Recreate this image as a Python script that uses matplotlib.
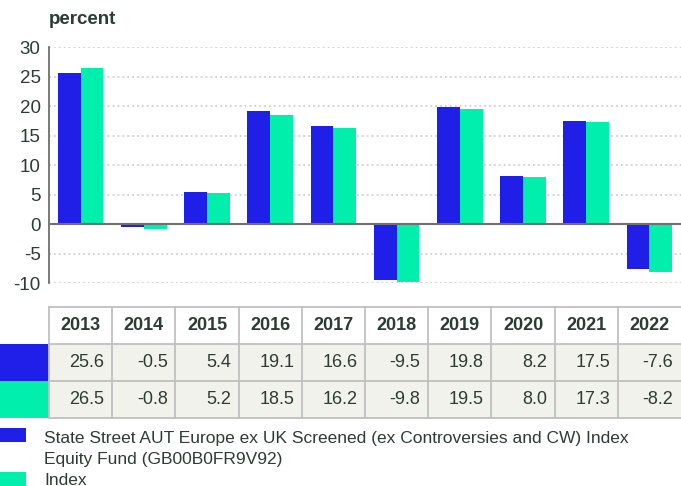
import matplotlib.pyplot as plt
from matplotlib.patches import Rectangle
import numpy as np

plt.rcParams['font.family'] = ['Liberation Sans', 'DejaVu Sans']

years = ['2013', '2014', '2015', '2016', '2017', '2018', '2019', '2020', '2021', '2022']
fund = [25.6, -0.5, 5.4, 19.1, 16.6, -9.5, 19.8, 8.2, 17.5, -7.6]
index = [26.5, -0.8, 5.2, 18.5, 16.2, -9.8, 19.5, 8.0, 17.3, -8.2]
series_names = ['State Street AUT Europe ex UK Screened (ex Controversies and CW) Index\nEquity Fund (GB00B0FR9V92)',
                'Index']
colors = ['#1f1fe8', '#00efad']
yticks = [30, 25, 20, 15, 10, 5, 0, -5, -10]

text_col = '#2b3d33'
W, H = 681, 486
fig = plt.figure(figsize=(W / 100, H / 100), dpi=100)

# main bar chart
ax = fig.add_axes([49 / W, (H - 283) / H, 632 / W, 236 / H])
x = np.arange(len(years))
bw = 0.36
ax.bar(x - bw / 2, fund, bw, color=colors[0], zorder=3)
ax.bar(x + bw / 2, index, bw, color=colors[1], zorder=3)
ax.set_xlim(-0.5, 9.5)
ax.set_ylim(-10, 30)
ax.set_yticks(yticks)
ax.set_yticklabels([str(t) for t in yticks])
ax.tick_params(axis='y', length=0, labelsize=13.5, colors=text_col, pad=6)
ax.set_xticks([])
for t in yticks:
    if t != 0:
        ax.axhline(t, color='#c8c8c8', lw=1.1, ls=(0, (1.2, 2)), zorder=1)
ax.axhline(0, color='#707070', lw=1.5, zorder=4)
for s in ['top', 'right', 'bottom']:
    ax.spines[s].set_visible(False)
ax.spines['left'].set_color('#707070')
ax.spines['left'].set_linewidth(1.3)
fig.text(49 / W, 1 - 20 / H, 'percent', fontsize=13.5, fontweight='bold', color=text_col, va='center')

# data table
tax = fig.add_axes([49 / W, (H - 418) / H, 632 / W, 111 / H])
tax.set_xlim(-0.5, 9.5)
tax.set_ylim(3, 0)
tax.axis('off')
grid_col = '#c0c0c0'
rows = [fund, index]
for i, yr in enumerate(years):
    tax.text(i, 0.5, yr, ha='center', va='center', fontsize=13, fontweight='bold', color=text_col)
    for r, vals in enumerate(rows):
        tax.add_patch(Rectangle((i - 0.5, r + 1), 1, 1, facecolor='#f2f2ec', edgecolor='none'))
        tax.text(i + 0.38, r + 1.5, f'{vals[i]:.1f}', ha='right', va='center', fontsize=13, color=text_col)
for i in range(len(years)):
    tax.plot([i - 0.5, i - 0.5], [0, 3], color=grid_col, lw=1.3, clip_on=False)
for yy in [0, 1, 2, 3]:
    tax.plot([-0.5, 9.5], [yy, yy], color=grid_col, lw=1.3, clip_on=False)
# color keys for rows
key_w = 49 / 63.2
for r in range(2):
    tax.add_patch(Rectangle((-0.5 - key_w, r + 1), key_w, 1, facecolor=colors[r], edgecolor='none', clip_on=False))

# legend
fig.patches.append(Rectangle((0, 1 - 442 / H), 26 / W, 14 / H, facecolor=colors[0], transform=fig.transFigure))
fig.patches.append(Rectangle((0, 1 - 488 / H), 26 / W, 16 / H, facecolor=colors[1], transform=fig.transFigure))
fig.text(44 / W, 1 - 449 / H, series_names[0], fontsize=12.5, color=text_col, va='center', linespacing=1.45)
fig.text(44 / W, 1 - 480 / H, series_names[1], fontsize=12.5, color=text_col, va='center')

fig.savefig('out.png', dpi=100)
